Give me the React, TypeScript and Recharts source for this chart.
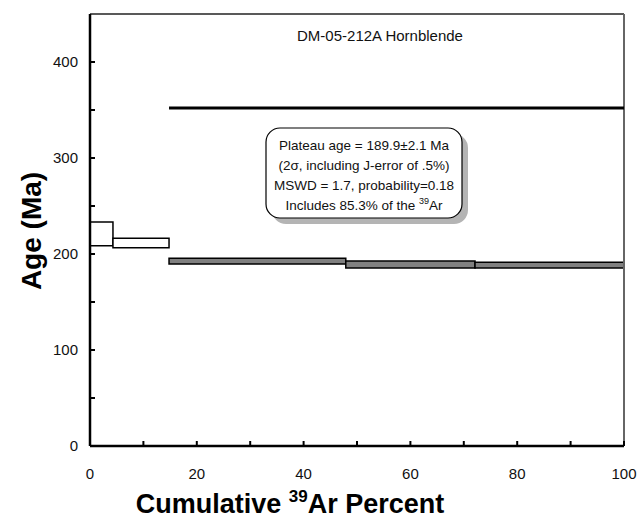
import { ComposedChart, XAxis, YAxis, ReferenceArea, ReferenceLine, Line } from 'recharts';

// step heating data (cumulative 39Ar %, apparent age in Ma, 1 sigma box half-height)
const STEP_START = [0, 4.3, 14.8, 47.9, 72.1];
const STEP_END = [4.3, 14.8, 47.9, 72.1, 100];
const STEP_AGE = [221, 211.4, 192.6, 189.1, 188.5];
const STEP_ERR = [12.4, 4.9, 2.9, 3.6, 3.0];
const IN_PLATEAU = [false, false, true, true, true];

const PLATEAU_X = [14.8, 100];
const PLATEAU_LINE_AGE = 352;

const X_MAX = 100;
const Y_MAX = 450;
const X_TICKS = [0, 10, 20, 30, 40, 50, 60, 70, 80, 90, 100];
const Y_TICKS = [0, 50, 100, 150, 200, 250, 300, 350, 400];

const BOX_LINES = [
  'Plateau age = 189.9±2.1 Ma',
  '(2σ, including J-error of .5%)',
  'MSWD = 1.7, probability=0.18',
];

const FONT = '"Liberation Sans", Arial, sans-serif';

export default function App() {
  const steps = STEP_START.map((s, i) => ({
    x1: s,
    x2: STEP_END[i],
    y1: STEP_AGE[i] - STEP_ERR[i],
    y2: STEP_AGE[i] + STEP_ERR[i],
    plateau: IN_PLATEAU[i],
  }));
  const plateauLine = PLATEAU_X.map((x) => ({ x, age: PLATEAU_LINE_AGE }));

  return (
    <div style={{ position: 'relative', width: 638, height: 525, fontFamily: FONT }}>
      <style>{'body{margin:0}'}</style>
      <ComposedChart
        width={638}
        height={525}
        data={plateauLine}
        margin={{ top: 14, right: 14, left: 0, bottom: 0 }}
      >
        <XAxis
          type="number"
          dataKey="x"
          domain={[0, X_MAX]}
          ticks={X_TICKS}
          allowDataOverflow
          height={79}
          tickSize={-5}
          tickMargin={27}
          interval={0}
          tickFormatter={(v: number) => (v % 20 === 0 ? String(v) : '')}
          tick={{ fontSize: 15, fill: '#111', fontFamily: FONT }}
          tickLine={{ stroke: '#000', strokeWidth: 2 }}
          axisLine={{ stroke: '#000', strokeWidth: 2.5 }}
        />
        <YAxis
          type="number"
          domain={[0, Y_MAX]}
          ticks={Y_TICKS}
          allowDataOverflow
          width={90}
          tickSize={-5}
          tickMargin={17}
          interval={0}
          tickFormatter={(v: number) => (v % 100 === 0 ? String(v) : '')}
          tick={{ fontSize: 15, fill: '#111', fontFamily: FONT }}
          tickLine={{ stroke: '#000', strokeWidth: 2 }}
          axisLine={{ stroke: '#000', strokeWidth: 2.5 }}
        />
        {/* frame: top and right edges */}
        <ReferenceLine y={Y_MAX} stroke="#222" strokeWidth={1.5} />
        <ReferenceLine x={X_MAX} stroke="#666" strokeWidth={2} />
        {steps.map((s, i) => (
          <ReferenceArea
            key={i}
            x1={s.x1}
            x2={s.x2}
            y1={s.y1}
            y2={s.y2}
            fill={s.plateau ? '#808080' : '#fff'}
            fillOpacity={1}
            stroke="#000"
            strokeWidth={1.5}
            ifOverflow="visible"
          />
        ))}
        <Line
          dataKey="age"
          stroke="#000"
          strokeWidth={3}
          dot={false}
          activeDot={false}
          isAnimationActive={false}
        />
      </ComposedChart>

      <svg width={638} height={525} style={{ position: 'absolute', left: 0, top: 0, pointerEvents: 'none' }}>
        <text x={380} y={41} textAnchor="middle" fontSize={15} fill="#111" fontFamily={FONT}>
          DM-05-212A Hornblende
        </text>

        {/* plateau info box */}
        <rect x={272} y={134} width={196} height={90} rx={14} fill="#b4b4b4" />
        <rect x={266} y={128} width={196} height={90} rx={14} fill="#fff" stroke="#000" strokeWidth={1.2} />
        {BOX_LINES.map((t, i) => (
          <text key={i} x={364} y={150 + i * 20} textAnchor="middle" fontSize={13.5} fill="#111" fontFamily={FONT}>
            {t}
          </text>
        ))}
        <text x={364} y={210} textAnchor="middle" fontSize={13.5} fill="#111" fontFamily={FONT}>
          Includes 85.3% of the <tspan fontSize={9} dy={-6}>39</tspan><tspan dy={6}>Ar</tspan>
        </text>

        <text
          transform="translate(41,231) rotate(-90)"
          textAnchor="middle"
          fontSize={28}
          fontWeight="bold"
          fill="#000"
          fontFamily={FONT}
        >
          Age (Ma)
        </text>
        <text x={290} y={513} textAnchor="middle" fontSize={27} fontWeight="bold" fill="#000" fontFamily={FONT}>
          Cumulative <tspan fontSize={17} dy={-11}>39</tspan><tspan dy={11}>Ar Percent</tspan>
        </text>
      </svg>
    </div>
  );
}
